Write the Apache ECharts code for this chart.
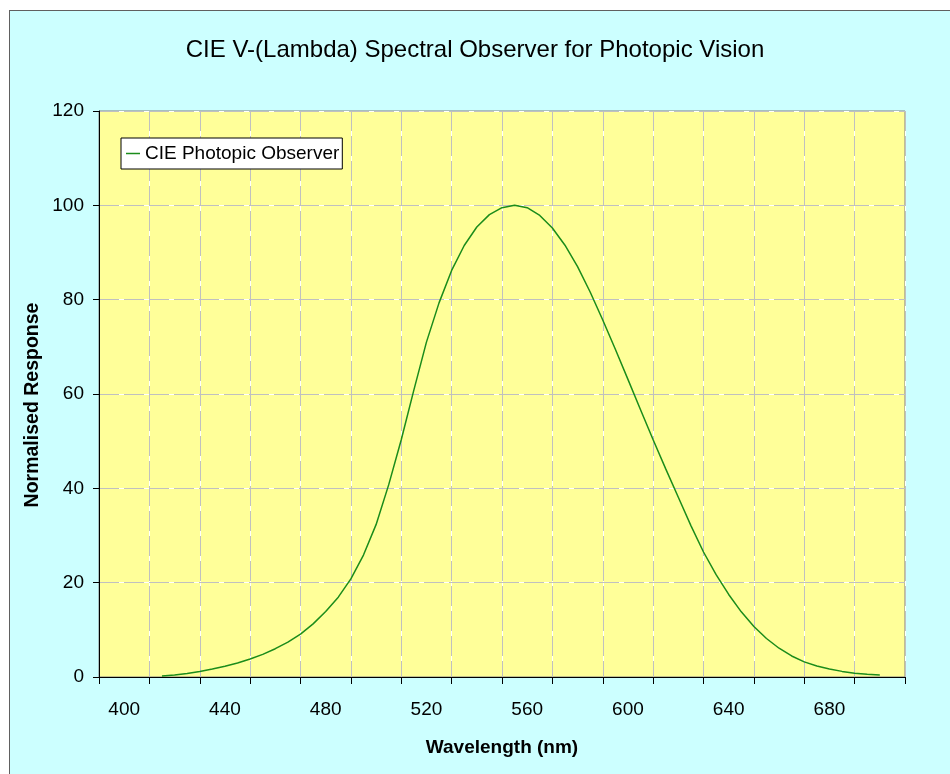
<!DOCTYPE html>
<html>
<head>
<meta charset="utf-8">
<script src="https://cdn.jsdelivr.net/npm/echarts@6/dist/echarts.min.js"></script>
<style>
  html, body { margin: 0; padding: 0; background: #ffffff; width: 950px; height: 774px; overflow: hidden; }
  #bg { position: absolute; left: 9px; top: 10px; right: 0; bottom: 0;
        background: #ccffff; border-top: 1.5px solid #606060; border-left: 1.5px solid #606060; }
  #main { position: absolute; left: 0; top: 0; width: 950px; height: 774px; }
</style>
</head>
<body>
<div id="bg"></div>
<div id="main"></div>
<script>
// Category labels of the wavelength axis (one per 20 nm band)
const xCategories = ['400','420','440','460','480','500','520','540','560','580','600','620','640','660','680','700'];

// Wavelengths (nm) of the plotted curve
const wavelengths = [415,420,425,430,435,440,445,450,455,460,465,470,475,480,485,490,495,500,
  505,510,515,520,525,530,535,540,545,550,555,560,565,570,575,580,585,590,595,600,
  605,610,615,620,625,630,635,640,645,650,655,660,665,670,675,680,685,690,695,700];

// Normalised response (%)
const response = [0.2,0.4,0.73,1.16,1.68,2.3,2.98,3.8,4.8,6.0,7.39,9.1,11.26,13.9,16.93,20.8,25.86,32.3,
  40.73,50.3,60.82,71.0,79.32,86.2,91.49,95.4,98.03,99.5,100.0,99.5,97.86,95.2,91.54,87.0,81.63,75.7,69.49,63.1,
  56.67,50.3,44.12,38.1,32.1,26.5,21.7,17.5,13.82,10.7,8.16,6.1,4.46,3.2,2.32,1.7,1.19,0.82,0.57,0.41];

const seriesName = 'CIE Photopic Observer';
const titleText = 'CIE V-(Lambda) Spectral Observer for Photopic Vision';
const xName = 'Wavelength (nm)';
const yName = 'Normalised Response';

const FONT = "'Liberation Sans', Arial, sans-serif";
const chart = echarts.init(document.getElementById('main'), null, { renderer: 'canvas' });

const gridLine = { show: true, lineStyle: { color: '#c0c0c0', width: 1, type: [20, 5] } };
const whiteLine = { show: true, lineStyle: { color: '#ffffff', width: 1, type: 'solid' } };

chart.setOption({
  backgroundColor: 'transparent',
  animation: false,
  title: {
    text: titleText,
    left: 'center',
    top: 38,
    padding: [0, 0, 0, 23],
    textStyle: { fontFamily: FONT, fontSize: 24, fontWeight: 'normal', color: '#000' }
  },
  legend: {
    data: [seriesName],
    left: 121,
    top: 138,
    orient: 'vertical',
    padding: [6, 3, 6, 5],
    backgroundColor: '#ffffff',
    borderColor: '#000000',
    borderWidth: 1,
    borderRadius: 0,
    icon: 'rect',
    itemWidth: 14,
    itemHeight: 1.5,
    itemGap: 5,
    textStyle: { fontFamily: FONT, fontSize: 19, color: '#000' }
  },
  grid: {
    left: 99, top: 111, width: 806, height: 566,
    show: true, backgroundColor: '#ffff99', borderColor: '#808080', borderWidth: 1,
    containLabel: false
  },
  xAxis: [
    {
      type: 'category',
      data: xCategories,
      boundaryGap: true,
      z: 1,
      axisLine: { show: true, lineStyle: { color: '#000', width: 1 } },
      axisTick: { show: true, interval: 0, length: 7, lineStyle: { color: '#000' } },
      axisLabel: { interval: 1, margin: 23, fontFamily: FONT, fontSize: 19, color: '#000' },
      splitLine: Object.assign({ interval: 0 }, gridLine)
    },
    {
      type: 'value',
      min: 390, max: 710,
      show: false,
      splitLine: { show: false }
    },
    {
      type: 'category',
      data: xCategories,
      boundaryGap: true,
      z: 0,
      axisLine: { show: false }, axisTick: { show: false }, axisLabel: { show: false },
      splitLine: Object.assign({ interval: 0 }, whiteLine)
    }
  ],
  yAxis: [
    {
      type: 'value',
      min: 0, max: 120, interval: 20,
      z: 1,
      axisLine: { show: true, lineStyle: { color: '#000', width: 1 } },
      axisTick: { show: true, length: 6, lineStyle: { color: '#000' } },
      axisLabel: { margin: 15, fontFamily: FONT, fontSize: 19, color: '#000' },
      splitLine: gridLine
    },
    {
      type: 'value',
      min: 0, max: 120, interval: 20,
      z: 0,
      axisLine: { show: false }, axisTick: { show: false }, axisLabel: { show: false },
      splitLine: whiteLine
    }
  ],
  graphic: [
    {
      type: 'text', x: 502, y: 748, z: 10,
      style: { text: xName, font: "bold 19px 'Liberation Sans', Arial, sans-serif",
               fill: '#000', align: 'center', verticalAlign: 'middle' }
    },
    {
      type: 'text', x: 33, y: 405, rotation: Math.PI / 2, z: 10,
      style: { text: yName, font: "bold 19.5px 'Liberation Sans', Arial, sans-serif",
               fill: '#000', align: 'center', verticalAlign: 'middle' }
    }
  ],
  series: [
    {
      name: seriesName,
      type: 'line',
      xAxisIndex: 1,
      yAxisIndex: 0,
      showSymbol: false,
      symbol: 'none',
      smooth: false,
      color: '#1b8c1b',
      lineStyle: { color: '#1b8c1b', width: 1.5 },
      data: wavelengths.map((w, i) => [w, response[i]])
    }
  ]
});
</script>
</body>
</html>
